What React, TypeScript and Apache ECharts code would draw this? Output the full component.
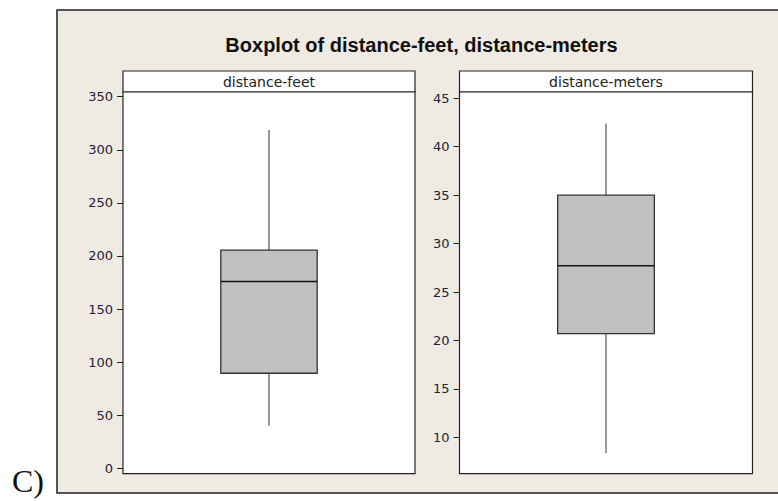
import React, { useEffect, useRef } from "react";
import * as echarts from "echarts";

// ---- data ----
const titleText = "Boxplot of distance-feet, distance-meters";
const panelNames = ["distance-feet", "distance-meters"];
// [min, Q1, median, Q3, max]
const feetStats = [40, 89.5, 176, 205.5, 318.5];
const metersStats = [8.35, 20.7, 27.7, 35.0, 42.4];
const feetTicks = [0, 50, 100, 150, 200, 250, 300, 350];
const metersTicks = [10, 15, 20, 25, 30, 35, 40, 45];
const feetRange = [-5.1, 354.4];
const metersRange = [6.24, 45.65];
const sideLabel = "C)";

const FONT = "'Liberation Sans', Arial, sans-serif";
const FONT2 = "'DejaVu Sans', Verdana, sans-serif";

function renderBox(params: any, api: any) {
  const x = api.value(0);
  const pMin = api.coord([x, api.value(1)]);
  const pQ1 = api.coord([x, api.value(2)]);
  const pMed = api.coord([x, api.value(3)]);
  const pQ3 = api.coord([x, api.value(4)]);
  const pMax = api.coord([x, api.value(5)]);
  const band = api.size([1, 0])[0];
  const half = band * 0.165;
  const cx = pMed[0];
  return {
    type: "group",
    children: [
      {
        type: "line",
        shape: { x1: cx, y1: pQ1[1], x2: cx, y2: pMin[1] },
        style: { stroke: "#555", lineWidth: 1.2 },
      },
      {
        type: "line",
        shape: { x1: cx, y1: pQ3[1], x2: cx, y2: pMax[1] },
        style: { stroke: "#555", lineWidth: 1.2 },
      },
      {
        type: "rect",
        shape: { x: cx - half, y: pQ3[1], width: half * 2, height: pQ1[1] - pQ3[1] },
        style: { fill: "#C0C0C0", stroke: "#333", lineWidth: 1.3 },
      },
      {
        type: "line",
        shape: { x1: cx - half, y1: pMed[1], x2: cx + half, y2: pMed[1] },
        style: { stroke: "#111", lineWidth: 1.5 },
      },
    ],
  };
}

export default function App() {
  const ref = useRef<HTMLDivElement>(null);
  useEffect(() => {
    if (!ref.current) return;
    const chart = echarts.init(ref.current, undefined, { renderer: "svg" });
    const grids = [
      { left: 123, top: 92, width: 292, height: 381.7 },
      { left: 459.5, top: 92, width: 293, height: 381.7 },
    ];
    const yAxisCommon = (range: number[], ticks: number[], gi: number) => ({
      type: "value",
      gridIndex: gi,
      min: range[0],
      max: range[1],
      splitLine: { show: false },
      axisLine: { show: false },
      axisTick: {
        show: true,
        length: 6,
        customValues: ticks,
        lineStyle: { color: "#222", width: 1 },
      },
      axisLabel: {
        customValues: ticks,
        margin: 10,
        fontSize: 13,
        fontFamily: FONT2,
        color: "#22223a",
      },
    });
    chart.setOption({
      animation: false,
      backgroundColor: "#ffffff",
      grid: grids.map((g) => ({
        ...g,
        show: true,
        backgroundColor: "#ffffff",
        borderColor: "#222",
        borderWidth: 1.2,
        z: 2,
      })),
      xAxis: [0, 1].map((i) => ({
        type: "category",
        gridIndex: i,
        data: [panelNames[i]],
        show: false,
      })),
      yAxis: [
        yAxisCommon(feetRange, feetTicks, 0),
        yAxisCommon(metersRange, metersTicks, 1),
      ],
      series: [
        {
          type: "custom",
          xAxisIndex: 0,
          yAxisIndex: 0,
          renderItem: renderBox,
          encode: { x: 0, y: [1, 2, 3, 4, 5] },
          data: [[0, ...feetStats]],
          z: 5,
        },
        {
          type: "custom",
          xAxisIndex: 1,
          yAxisIndex: 1,
          renderItem: renderBox,
          encode: { x: 0, y: [1, 2, 3, 4, 5] },
          data: [[0, ...metersStats]],
          z: 5,
        },
      ],
      graphic: {
        elements: [
          {
            type: "rect",
            z: -100,
            shape: { x: 57, y: 10, width: 725, height: 483 },
            style: { fill: "#EFEBE2", stroke: "#222", lineWidth: 1.5 },
          },
          {
            type: "text",
            z: 10,
            x: 421.5,
            y: 45,
            style: {
              text: titleText,
              fontFamily: FONT,
              fontWeight: "bold",
              fontSize: 20,
              fill: "#111",
              align: "center",
              verticalAlign: "middle",
            },
          },
          ...grids.map((g, i) => ({
            type: "group",
            z: 10,
            children: [
              {
                type: "rect",
                shape: { x: g.left, y: 71, width: g.width, height: 21 },
                style: { fill: "#ffffff", stroke: "#222", lineWidth: 1.2 },
              },
              {
                type: "text",
                x: g.left + g.width / 2,
                y: 81.5,
                style: {
                  text: panelNames[i],
                  fontFamily: FONT2,
                  fontSize: 14,
                  fill: "#222",
                  align: "center",
                  verticalAlign: "middle",
                },
              },
            ],
          })),
          {
            type: "text",
            z: 10,
            x: 12,
            y: 497,
            style: {
              text: sideLabel,
              fontFamily: "'Liberation Serif', 'DejaVu Serif', serif",
              fontSize: 32,
              fill: "#111",
              align: "left",
              verticalAlign: "bottom",
            },
          },
        ],
      },
    });
    return () => chart.dispose();
  }, []);
  return (
    <div
      ref={ref}
      style={{ position: "fixed", left: 0, top: 0, width: 778, height: 501 }}
    />
  );
}
